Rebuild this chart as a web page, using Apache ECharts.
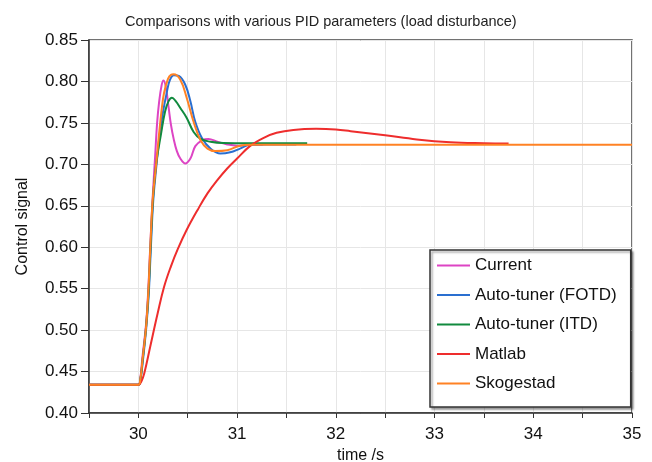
<!DOCTYPE html>
<html>
<head>
<meta charset="utf-8">
<script src="https://cdn.jsdelivr.net/npm/echarts@6/dist/echarts.min.js"></script>
<style>html,body{margin:0;padding:0;background:#fff}#c{width:652px;height:462px}</style>
</head>
<body>
<div id="c"></div>
<script>
const seriesNames = ['Current', 'Auto-tuner (FOTD)', 'Auto-tuner (ITD)', 'Matlab', 'Skogestad'];
const seriesColors = ['#dd44c4', '#2a6fd0', '#118a3e', '#ee2d2d', '#ff8224'];

const current = [[29.5,0.434],[30.0,0.434],[30.02,0.442],[30.04,0.466],[30.077,0.506],[30.1,0.548],[30.12,0.60],[30.145,0.66],[30.17,0.71],[30.19,0.75],[30.21,0.775],[30.235,0.795],[30.255,0.801],[30.28,0.792],[30.307,0.768],[30.33,0.748],[30.357,0.731],[30.39,0.716],[30.425,0.707],[30.475,0.701],[30.527,0.707],[30.577,0.722],[30.645,0.729],[30.71,0.7306],[30.8,0.7273],[30.9,0.724],[31.0,0.7225],[31.1,0.723],[31.26,0.7235]];

const fotd = [[29.5,0.434],[30.0,0.434],[30.02,0.44],[30.045,0.462],[30.08,0.503],[30.105,0.543],[30.125,0.595],[30.15,0.655],[30.18,0.695],[30.215,0.735],[30.245,0.76],[30.29,0.788],[30.32,0.802],[30.36,0.8075],[30.41,0.8066],[30.475,0.796],[30.527,0.776],[30.577,0.751],[30.645,0.7314],[30.73,0.719],[30.83,0.713],[30.93,0.7145],[31.03,0.719],[31.13,0.7235],[31.3,0.724],[31.6,0.724]];

const itd = [[29.5,0.434],[30.0,0.434],[30.02,0.44],[30.043,0.464],[30.078,0.504],[30.102,0.544],[30.122,0.597],[30.147,0.657],[30.18,0.70],[30.23,0.737],[30.27,0.7635],[30.305,0.776],[30.34,0.7804],[30.38,0.776],[30.425,0.768],[30.49,0.756],[30.56,0.739],[30.63,0.7306],[30.73,0.7273],[30.86,0.7258],[31.2,0.7255],[31.71,0.7254]];

const matlab = [[29.5,0.434],[30.0,0.434],[30.03,0.438],[30.06,0.448],[30.12,0.48],[30.195,0.52],[30.26,0.552],[30.33,0.577],[30.4,0.598],[30.49,0.621],[30.6,0.645],[30.7,0.665],[30.8,0.681],[30.9,0.695],[31.0,0.707],[31.13,0.722],[31.27,0.732],[31.4,0.738],[31.57,0.7415],[31.8,0.7428],[32.0,0.742],[32.15,0.740],[32.5,0.735],[32.82,0.730],[33.16,0.7266],[33.5,0.7254],[33.75,0.725]];

const skogestad = [[29.5,0.434],[30.0,0.434],[30.02,0.441],[30.042,0.464],[30.078,0.504],[30.1,0.544],[30.12,0.597],[30.145,0.657],[30.18,0.70],[30.21,0.737],[30.235,0.765],[30.26,0.786],[30.3,0.803],[30.33,0.808],[30.357,0.8086],[30.425,0.802],[30.49,0.780],[30.56,0.751],[30.63,0.729],[30.70,0.719],[30.78,0.716],[30.9,0.717],[31.03,0.7225],[31.13,0.7235],[31.5,0.7235],[33,0.7235],[35,0.7235]];

const seriesData = [current, fotd, itd, matlab, skogestad];

const xTicks = { min: 29.5, max: 35, interval: 0.5 };
const yTicks = { min: 0.4, max: 0.85, interval: 0.05 };

const chart = echarts.init(document.getElementById('c'), null, { renderer: 'canvas' });
const FONT = '"Liberation Sans", Arial, sans-serif';
chart.setOption({
  animation: false,
  backgroundColor: '#fff',
  textStyle: { fontFamily: FONT },
  title: {
    text: 'Comparisons with various PID parameters (load disturbance)',
    left: 120, top: 9,
    textStyle: { fontSize: 14.5, fontWeight: 'normal', color: '#222', fontFamily: FONT }
  },
  grid: { left: 89, right: 20, top: 40, bottom: 49, outerBoundsMode: 'none', containLabel: false,
    show: true, borderColor: '#444', borderWidth: 1.5, backgroundColor: '#fff' },
  legend: {
    orient: 'vertical', left: 430, top: 250,
    padding: [7, 14, 15, 6],
    backgroundColor: '#fff', borderColor: '#333', borderWidth: 1.5,
    shadowColor: 'rgba(0,0,0,0.35)', shadowBlur: 2, shadowOffsetX: 2, shadowOffsetY: 2,
    itemWidth: 33, itemHeight: 14, itemGap: 12.5,
    itemStyle: { opacity: 0 },
    lineStyle: { width: 2 },
    textStyle: { fontSize: 17, color: '#111', fontFamily: FONT },
    data: seriesNames
  },
  xAxis: {
    type: 'value', min: xTicks.min, max: xTicks.max, interval: xTicks.interval,
    name: 'time /s', nameLocation: 'middle', nameGap: 29,
    nameTextStyle: { fontSize: 16, color: '#111', fontFamily: FONT },
    axisLine: { show: true, lineStyle: { color: '#333', width: 1.5 } },
    axisTick: { show: true, length: 5, lineStyle: { color: '#333' } },
    axisLabel: { fontSize: 17, color: '#111', margin: 13, fontFamily: FONT,
      formatter: v => (Math.abs(v - Math.round(v)) < 1e-6 && v > 29.9) ? String(Math.round(v)) : '' },
    splitLine: { show: true, lineStyle: { color: '#e6e6e6', width: 1 } }
  },
  yAxis: {
    type: 'value', min: yTicks.min, max: yTicks.max, interval: yTicks.interval,
    name: 'Control signal', nameLocation: 'middle', nameGap: 58,
    nameTextStyle: { fontSize: 16, color: '#111', fontFamily: FONT },
    axisLine: { show: true, lineStyle: { color: '#333', width: 1.5 } },
    axisTick: { show: true, length: 8, lineStyle: { color: '#333' } },
    axisLabel: { fontSize: 17, color: '#111', margin: 11, fontFamily: FONT, formatter: v => v.toFixed(2) },
    splitLine: { show: true, lineStyle: { color: '#e6e6e6', width: 1 } }
  },
  series: seriesNames.map((n, i) => ({
    name: n, type: 'line', data: seriesData[i],
    symbol: 'none', smooth: 0.4,
    lineStyle: { color: seriesColors[i], width: 2 },
    itemStyle: { color: seriesColors[i] },
    clip: true
  }))
});
</script>
</body>
</html>
